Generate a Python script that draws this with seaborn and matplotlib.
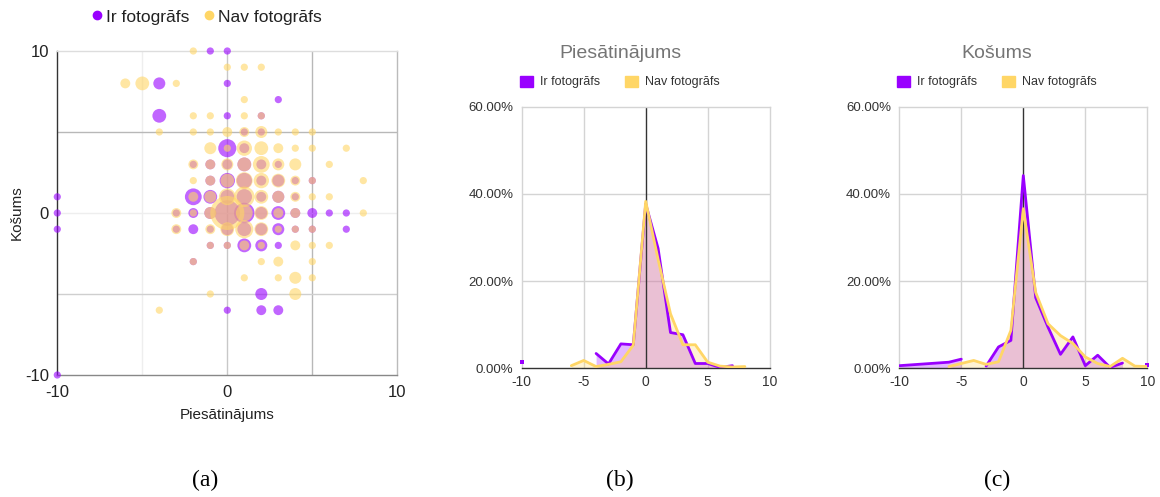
import numpy as np
import pandas as pd
import matplotlib
matplotlib.use("Agg")
import matplotlib.pyplot as plt
import seaborn as sns
from matplotlib.lines import Line2D
from matplotlib.patches import Patch

sns.set_theme(style="white")
plt.rcParams['font.family'] = ['Liberation Sans', 'DejaVu Sans']
plt.rcParams['axes.unicode_minus'] = False

PURPLE = "#9900ff"
YELLOW = "#ffd666"
series_names = ["Ir fotogrāfs", "Nav fotogrāfs"]

# ---------------- scatter (a): counts per (Piesātinājums, Košums) ----------------
ir_x = [-1, 0, -4, 0, 3, -4, 0, 2, 1, 2, 0, 1, -2, -1, 0, 1, 2, 3, -1, 0, 1, 2, 3, 4, 5,
        -10, -2, -1, 0, 1, 2, 3, 4, -10, -3, -2, -1, 0, 1, 2, 3, 4, 5, 6, 7,
        -10, -3, -2, -1, 0, 1, 2, 3, 4, 5, 7, -1, 0, 1, 2, 3, -2, 2, 0, 2, 3, -10]
ir_y = [10, 10, 8, 8, 7, 6, 6, 6, 5, 5, 4, 4, 3, 3, 3, 3, 3, 3, 2, 2, 2, 2, 2, 2, 2,
        1, 1, 1, 1, 1, 1, 1, 1, 0, 0, 0, 0, 0, 0, 0, 0, 0, 0, 0, 0,
        -1, -1, -1, -1, -1, -1, -1, -1, -1, -1, -1, -2, -2, -2, -2, -2, -3, -5, -6, -6, -6, -10]
ir_n = [1, 1, 3, 1, 1, 4, 1, 1, 1, 1, 7, 2, 1, 2, 2, 4, 2, 1, 2, 5, 5, 2, 3, 1, 1,
        1, 6, 4, 4, 5, 2, 3, 1, 1, 1, 2, 3, 14, 9, 3, 4, 2, 2, 1, 1,
        1, 1, 2, 1, 3, 4, 3, 3, 1, 1, 1, 1, 1, 4, 3, 1, 1, 3, 1, 2, 2, 1]

nav_x = [-2, 0, 1, 2, -6, -5, -3, 1, -2, -1, 1, 2, -4, -2, -1, 0, 1, 2, 3, 4, 5,
         -1, 0, 1, 2, 3, 4, 5, 7, -2, -1, 0, 1, 2, 3, 4, 6,
         -2, -1, 0, 1, 2, 3, 4, 5, 8, -2, -1, 0, 1, 2, 3, 4, 5, 6,
         -3, -2, -1, 0, 1, 2, 3, 4, 8, -3, -1, 0, 1, 2, 3, 4, 5,
         -1, 0, 1, 2, 4, 5, 6, -2, 2, 3, 5, 1, 3, 4, 5, -1, 4, -4]
nav_y = [10, 9, 9, 9, 8, 8, 8, 7, 6, 6, 6, 6, 5, 5, 5, 5, 5, 5, 5, 5, 5,
         4, 4, 4, 4, 4, 4, 4, 4, 3, 3, 3, 3, 3, 3, 3, 3,
         2, 2, 2, 2, 2, 2, 2, 2, 2, 1, 1, 1, 1, 1, 1, 1, 1, 1,
         0, 0, 0, 0, 0, 0, 0, 0, 0, -1, -1, -1, -1, -1, -1, -1, -1,
         -2, -2, -2, -2, -2, -2, -2, -3, -3, -3, -3, -4, -4, -4, -4, -5, -5, -6]
nav_n = [1, 1, 1, 1, 2, 4, 1, 1, 1, 1, 1, 1, 1, 1, 1, 2, 2, 3, 1, 1, 1,
         3, 1, 5, 4, 2, 1, 1, 1, 2, 2, 3, 4, 6, 3, 3, 1,
         1, 2, 4, 6, 5, 4, 2, 1, 1, 2, 3, 6, 9, 4, 3, 2, 1, 1,
         2, 1, 3, 25, 6, 4, 2, 2, 1, 2, 2, 4, 7, 4, 1, 1, 1,
         1, 1, 2, 1, 2, 1, 1, 1, 1, 2, 1, 1, 1, 3, 1, 1, 3, 1]

# ---------------- distributions (b), (c): share of answers per score ----------------
score = list(range(-10, 11))
nan = np.nan
pies_ir = [1.5, nan, nan, nan, nan, nan, 3.4, 1.0, 5.6, 5.4, 37.7, 27.5, 8.2, 7.7,
           1.1, 1.1, 0.2, 0.6, nan, nan, nan]
pies_nav = [nan, nan, nan, nan, 0.6, 1.8, 0.4, 0.9, 1.5, 5.3, 38.3, 25.0, 12.5, 5.4,
            5.4, 1.4, 0.5, 0.3, 0.4, nan, nan]
kos_ir = [0.6, 0.8, 1.0, 1.2, 1.4, 2.1, nan, 0.5, 4.9, 6.4, 44.2, 16.2, 9.4, 3.2,
          7.2, 0.6, 3.0, 0.2, 1.2, nan, 0.8]
kos_nav = [nan, nan, nan, nan, 0.4, 1.1, 1.8, 0.9, 1.5, 8.7, 36.6, 17.4, 10.2, 7.5,
           5.7, 2.6, 1.1, 0.4, 2.3, 0.5, 0.4]
x_ticks_hist = [-10, -5, 0, 5, 10]
y_ticks_hist = [0, 20, 40, 60]

W, H = 1160, 497
fig = plt.figure(figsize=(W / 100, H / 100), dpi=100)
fig.patch.set_facecolor("white")


def fx(px):
    return px / W


def fy(py):
    return 1 - py / H


# ---------------- panel (a) ----------------
ax = fig.add_axes([fx(57.3), fy(375), fx(340), (375 - 51) / H])
df = pd.DataFrame({
    "x": ir_x + nav_x,
    "y": ir_y + nav_y,
    "n": ir_n + nav_n,
    "grp": [series_names[0]] * len(ir_x) + [series_names[1]] * len(nav_x),
})
for v, c in [(-5, "#eeeeee"), (0, "#c8c8c8"), (5, "#b8b8b8")]:
    ax.axvline(v, color=c, lw=1, zorder=0)
for v, c in [(5, "#b8b8b8"), (0, "#eeeeee"), (-5, "#cfcfcf")]:
    ax.axhline(v, color=c, lw=1, zorder=0)
sns.scatterplot(data=df, x="x", y="y", hue="grp", size="n", ax=ax,
                palette={series_names[0]: PURPLE, series_names[1]: YELLOW},
                sizes=(27, 600), size_norm=(1, 25), alpha=0.6, linewidth=0,
                legend=False, clip_on=False, zorder=3)
ax.set_xlim(-10, 10)
ax.set_ylim(-10, 10)
ax.set_xticks([-10, 0, 10])
ax.set_yticks([-10, 0, 10])
ax.tick_params(axis="both", length=0, labelsize=12, colors="#222222")
ax.tick_params(axis="x", pad=7)
ax.tick_params(axis="y", pad=6)
ax.set_xlabel("")
ax.set_ylabel("")
for s, c in [("left", "#333333"), ("bottom", "#888888"), ("right", "#bbbbbb"), ("top", "#dddddd")]:
    ax.spines[s].set_color(c)
    ax.spines[s].set_linewidth(1)
fig.text(fx(227), fy(415), "Piesātinājums", ha="center", va="center", fontsize=11, color="#222222")
fig.text(fx(17), fy(213), "Košums", ha="center", va="center", rotation=90, fontsize=11, color="#222222")
handles = [Line2D([], [], marker="o", ls="", color=PURPLE, markersize=6, label=series_names[0]),
           Line2D([], [], marker="o", ls="", color=YELLOW, markersize=6, label=series_names[1])]
fig.legend(handles=handles, loc="center", bbox_to_anchor=(fx(205), fy(17)), ncol=2,
           frameon=False, fontsize=12.5, handletextpad=0.05, columnspacing=0.6,
           handlelength=1.0, labelcolor="#222222")


# ---------------- panels (b) and (c) ----------------
def runs(vals):
    out, cur = [], []
    for i, v in enumerate(vals):
        if np.isnan(v):
            if cur:
                out.append(cur)
            cur = []
        else:
            cur.append(i)
    if cur:
        out.append(cur)
    return out


def dist_panel(left_px, title, center_px, ir_vals, nav_vals):
    a = fig.add_axes([fx(left_px), fy(368.3), fx(248), (368.3 - 106.7) / H])
    for v in [-5, 5]:
        a.axvline(v, color="#d4d4d4", lw=1, zorder=0)
    for v in [20, 40]:
        a.axhline(v, color="#d4d4d4", lw=1, zorder=0)
    xs = np.array(score, dtype=float)
    for vals, col in [(ir_vals, PURPLE), (nav_vals, YELLOW)]:
        arr = np.array(vals, dtype=float)
        for r in runs(arr):
            if len(r) > 1:
                a.fill_between(xs[r], 0, arr[r], color=col, alpha=0.28, lw=0, zorder=1)
    a.axvline(0, color="#333333", lw=1, zorder=2)
    for vals, col in [(ir_vals, PURPLE), (nav_vals, YELLOW)]:
        arr = np.array(vals, dtype=float)
        for r in runs(arr):
            seg = pd.DataFrame({"x": xs[r], "y": arr[r]})
            if len(r) > 1:
                sns.lineplot(data=seg, x="x", y="y", color=col, lw=2, ax=a,
                             estimator=None, zorder=3)
            else:
                a.scatter(seg["x"], seg["y"], color=col, s=10, marker="s",
                          clip_on=False, zorder=3, linewidths=0)
    a.set_xlim(-10, 10)
    a.set_ylim(0, 60)
    a.set_xticks(x_ticks_hist)
    a.set_yticks(y_ticks_hist)
    a.set_yticklabels([f"{v:.2f}%" for v in y_ticks_hist])
    a.tick_params(axis="both", length=0, labelsize=9.5, colors="#333333")
    a.tick_params(axis="x", pad=5, labelsize=10)
    a.tick_params(axis="y", pad=6)
    a.set_xlabel("")
    a.set_ylabel("")
    for s in ["left", "right", "top"]:
        a.spines[s].set_color("#d4d4d4")
        a.spines[s].set_linewidth(1)
    a.spines["bottom"].set_color("#333333")
    a.spines["bottom"].set_linewidth(1)
    fig.text(fx(center_px), fy(53), title, ha="center", va="center", fontsize=14, color="#757575")
    hh = [Patch(facecolor=PURPLE, edgecolor=PURPLE, label=series_names[0]),
          Patch(facecolor=YELLOW, edgecolor=YELLOW, label=series_names[1])]
    fig.legend(handles=hh, loc="center", bbox_to_anchor=(fx(center_px), fy(82)), ncol=2,
               frameon=False, fontsize=9, handlelength=1.0, handleheight=1.0,
               handletextpad=0.6, columnspacing=2.0, labelcolor="#333333")
    return a


dist_panel(521.7, "Piesātinājums", 620, pies_ir, pies_nav)
dist_panel(899.3, "Košums", 997, kos_ir, kos_nav)

for lab, cx in [("(a)", 205), ("(b)", 620), ("(c)", 997)]:
    fig.text(fx(cx), fy(480), lab, ha="center", va="center", fontsize=17,
             family=["Liberation Serif", "DejaVu Serif"], color="black")

fig.savefig("out.png", dpi=100, facecolor="white")
